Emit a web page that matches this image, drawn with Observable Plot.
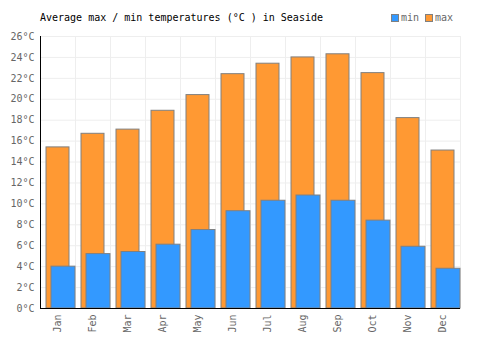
<!DOCTYPE html>
<html>
<head>
<meta charset="utf-8">
<script src="https://cdn.jsdelivr.net/npm/d3@7"></script>
<script src="https://cdn.jsdelivr.net/npm/@observablehq/plot@0.6"></script>
<style>
  html, body { margin: 0; padding: 0; background: #fff; }
  #wrap { position: relative; width: 500px; height: 350px; font-family: "DejaVu Sans Mono", monospace; }
  #title { position: absolute; left: 40px; top: 12px; font-size: 10px; color: #000; white-space: pre; }
  #legend { position: absolute; left: 391px; top: 12px; font-size: 10px; color: #666; display: flex; align-items: center; }
  .sw { display: inline-block; width: 6px; height: 6px; border: 1px solid #808080; margin-right: 2px; }
  .lab { margin-right: 6px; }
  #chart { position: absolute; left: 0; top: 0; }
</style>
</head>
<body>
<div id="wrap">
  <div id="chart"></div>
  <div id="title">Average max / min temperatures (°C ) in Seaside</div>
  <div id="legend"></div>
</div>
<script>
const months = ["Jan","Feb","Mar","Apr","May","Jun","Jul","Aug","Sep","Oct","Nov","Dec"];
const minTemps = [4.0, 5.2, 5.4, 6.1, 7.5, 9.3, 10.3, 10.8, 10.3, 8.4, 5.9, 3.8];
const maxTemps = [15.4, 16.7, 17.1, 18.9, 20.4, 22.4, 23.4, 24.0, 24.3, 22.5, 18.2, 15.1];
const yTicks = d3.range(0, 27, 2);
const seriesNames = ["min", "max"];
const seriesColors = ["#3399ff", "#ff9933"];

const data = months.map((m, i) => ({month: m, i, min: minTemps[i], max: maxTemps[i]}));

const chart = Plot.plot({
  width: 500,
  height: 350,
  marginLeft: 40,
  marginRight: 40,
  marginTop: 36,
  marginBottom: 42,
  style: {fontFamily: "DejaVu Sans Mono, monospace", fontSize: "10px", color: "#666", background: "#fff"},
  x: {
    type: "linear",
    domain: [0, months.length],
    ticks: months.map((m, i) => i + 0.5),
    tickFormat: d => months[Math.floor(d)],
    tickSize: 0,
    tickPadding: 6,
    tickRotate: -90,
    label: null
  },
  y: {
    domain: [0, 26],
    ticks: yTicks,
    tickFormat: d => d + "°C",
    tickSize: 0,
    tickPadding: 6,
    label: null
  },
  marks: [
    Plot.ruleY(yTicks, {stroke: "#eeeeee", strokeWidth: 1}),
    Plot.ruleX(d3.range(0, months.length + 1), {stroke: "#eeeeee", strokeWidth: 1, y1: 0, y2: 26}),
    Plot.rectY(data, {x1: d => d.i, x2: d => d.i + 1, y: "max", fill: seriesColors[1], stroke: "#808080", strokeWidth: 1, insetLeft: 6, insetRight: 6}),
    Plot.rectY(data, {x1: d => d.i, x2: d => d.i + 1, y: "min", fill: seriesColors[0], stroke: "#808080", strokeWidth: 1, insetLeft: 11, insetRight: 0}),
    Plot.ruleY([0], {stroke: "#000", strokeWidth: 1}),
    Plot.ruleX([0], {stroke: "#000", strokeWidth: 1, y1: 0, y2: 26})
  ]
});
document.getElementById("chart").appendChild(chart);

const legend = document.getElementById("legend");
seriesNames.forEach((n, k) => {
  const sw = document.createElement("span");
  sw.className = "sw";
  sw.style.background = seriesColors[k];
  const lab = document.createElement("span");
  lab.className = "lab";
  lab.textContent = n;
  legend.appendChild(sw);
  legend.appendChild(lab);
});
</script>
</body>
</html>
